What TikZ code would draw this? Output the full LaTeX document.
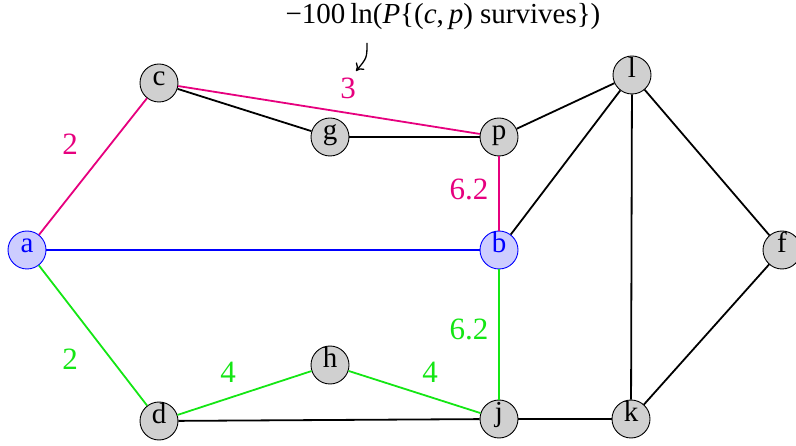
\documentclass[tikz,border=0pt]{standalone}
\usepackage{fontspec}
\setmainfont{Liberation Serif}
\usetikzlibrary{arrows.meta}
\definecolor{mag}{RGB}{230,0,126}
\definecolor{grn}{RGB}{20,230,20}
\definecolor{blu}{RGB}{0,0,255}
\definecolor{nodegray}{RGB}{208,208,208}
\definecolor{nodeblue}{RGB}{205,205,255}
\tikzset{
  vtx/.style={circle, draw=black, line width=0.9pt, fill=nodegray, minimum size=38pt, inner sep=0pt,
    text height=0.7em, text depth=0.15em, font=\fontsize{29}{34}\selectfont},
  bvtx/.style={vtx, draw=blu, fill=nodeblue, text=blu},
  edge/.style={line width=1.8pt, black},
  medge/.style={edge, draw=mag},
  gedge/.style={edge, draw=grn},
  bedge/.style={edge, draw=blu},
  lab/.style={anchor=base, inner sep=0pt, font=\fontsize{31}{36}\selectfont},
  annlab/.style={anchor=base, inner sep=0pt, font=\fontsize{29}{34}\selectfont},
}
\begin{document}
\begin{tikzpicture}[x=1pt,y=-1pt]
\useasboundingbox (0,0) rectangle (796,446);
% edges drawn first (under the vertices)
\coordinate (ca) at (27,250);
\node[bvtx] (a) at (27,250) {a};
\node[bvtx] (b) at (499,250) {b};
\node[vtx] (c) at (159,83) {c};
\node[vtx] (g) at (330,137) {g};
\node[vtx] (p) at (499,137) {p};
\node[vtx] (l) at (632,75) {l};
\node[vtx] (f) at (782,250) {f};
\node[vtx] (h) at (330,365) {h};
\node[vtx] (d) at (159,421) {d};
\node[vtx] (j) at (499,419) {j};
\node[vtx] (k) at (631,419) {k};
% edges
\draw[edge] (c) -- (g);
\draw[edge] (g) -- (p);
\draw[medge] (c) -- (p);
\draw[medge] (a) -- (c);
\draw[bedge] (a) -- (b);
\draw[gedge] (a) -- (d);
\draw[medge] (p) -- (b);
\draw[edge] (p) -- (l);
\draw[edge] (l) -- (b);
\draw[edge] (l) -- (f);
\draw[edge] (l) -- (k);
\draw[edge] (f) -- (k);
\draw[gedge] (b) -- (j);
\draw[gedge] (d) -- (h);
\draw[gedge] (h) -- (j);
\draw[edge] (d) -- (j);
\draw[edge] (j) -- (k);
% edge labels
\node[lab, text=mag] (l3) at (348,99) {3};
\node[lab, text=mag] (l2a) at (70,155) {2};
\node[lab, text=grn] (l2b) at (70,370) {2};
\node[lab, text=mag] (l62a) at (469,200) {6.2};
\node[lab, text=grn] (l62b) at (469,340) {6.2};
\node[lab, text=grn] (l4a) at (228,383) {4};
\node[lab, text=grn] (l4b) at (430,383) {4};
% annotation
\node[annlab] (ann) at (443,24) {−100\,ln(\textit{P}\{(\textit{c},\,\textit{p}) survives\})};
\coordinate (as) at (367,43);
\coordinate (ae) at (356,71);
\draw[line width=1.3pt, -{To[length=7pt,width=11pt]}] (as) .. controls (367,58) .. (ae);
\end{tikzpicture}
\end{document}
